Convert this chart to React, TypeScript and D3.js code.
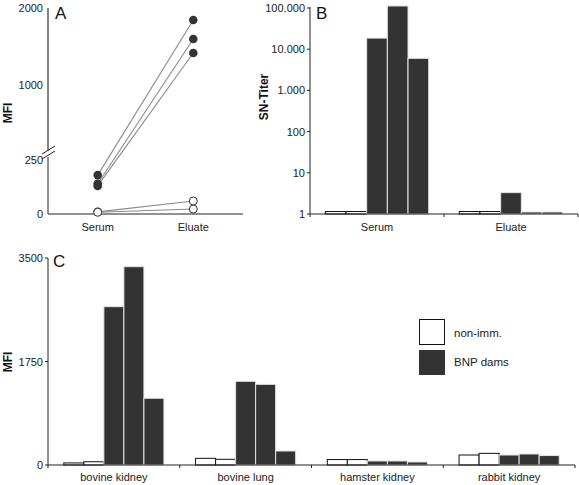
import React from "react";
import * as d3 from "d3";

// Panel A: MFI serum vs eluate
const aCategories = ["Serum", "Eluate"];
const aSerumFilled = [180, 140, 130];
const aEluateFilled = [1844, 1597, 1416];
const aSerumOpen = [10, 8];
const aEluateOpen = [60, 23];
const aTicksLower = [0, 250];
const aTicksUpper = [1000, 2000];

// Panel B: SN-Titer
const bGroups = ["Serum", "Eluate"];
const bSerum = [1.15, 1.15, 18600, 112000, 6000];
const bEluate = [1.15, 1.15, 3.3, 1.12, 1.12];
const bTypes = ["non", "non", "bnp", "bnp", "bnp"];
const bTicks = [1, 10, 100, 1000, 10000, 100000];
const bTickLabels = ["1", "10", "100", "1.000", "10.000", "100.000"];

// Panel C: MFI on tissues
const cTissues = ["bovine kidney", "bovine lung", "hamster kidney", "rabbit kidney"];
const cBovineKidney = [35, 55, 2677, 3353, 1128];
const cBovineLung = [113, 96, 1415, 1364, 237];
const cHamsterKidney = [92, 92, 68, 68, 51];
const cRabbitKidney = [169, 197, 169, 186, 160];
const cTypes = ["non", "non", "bnp", "bnp", "bnp"];
const cTicks = [0, 1750, 3500];
const legendLabels = ["non-imm.", "BNP dams"];

const FONT = "Liberation Sans, Arial, Helvetica, sans-serif";
const DARK = "#333333";
const AX = "#222";

export default function App() {
  // ---------- Panel A ----------
  const aX = d3.scalePoint(aCategories, [48, 243]).padding(0.52);
  const aLower = d3.scaleLinear([0, 250], [214, 160]);
  const aUpper = d3.scaleLinear([1000, 2000], [85, 8]);
  const aY = (v: number) => (v <= 250 ? aLower(v) : aUpper(v));
  const xS = aX("Serum")!;
  const xE = aX("Eluate")!;

  // ---------- Panel B ----------
  const bX = d3.scaleBand(bGroups, [310, 578]);
  const bInner = d3.scaleBand(d3.range(5).map(String), [0, bX.bandwidth()]).paddingOuter(0.74);
  const bY = d3.scaleLog([1, 100000], [214, 8]);
  const bData = [bSerum, bEluate];

  // ---------- Panel C ----------
  const cX = d3.scaleBand(cTissues, [48, 575]);
  const cInner = d3.scaleBand(d3.range(5).map(String), [0, cX.bandwidth()]).paddingOuter(0.79);
  const cY = d3.scaleLinear([0, 3500], [465, 258]);
  const cData = [cBovineKidney, cBovineLung, cHamsterKidney, cRabbitKidney];

  const barFill = (t: string) => (t === "bnp" ? DARK : "#fff");
  const barStroke = (t: string) => (t === "bnp" ? "#e4e4e4" : "#111");

  return (
    <svg
      width={579}
      height={485}
      style={{ position: "absolute", left: 0, top: 0, background: "#fff" }}
      fontFamily={FONT}
    >
      {/* ================= Panel A ================= */}
      <g>
        {/* y axis, broken */}
        <line x1={48} x2={48} y1={8} y2={151} stroke="#444" strokeWidth={1.3} />
        <line x1={48} x2={48} y1={157} y2={214} stroke={AX} strokeWidth={1} />
        <line x1={42} y1={154} x2={55} y2={146} stroke={AX} strokeWidth={1} />
        <line x1={42} y1={159} x2={55} y2={151} stroke={AX} strokeWidth={1} />
        {/* x axis */}
        <line x1={48} x2={243} y1={214} y2={214} stroke={AX} strokeWidth={1} />
        {[...aTicksUpper].map((t) => (
          <text key={"au" + t} x={43} y={aUpper(t) + 4} textAnchor="end" fontSize={11} fill={AX}>
            {t}
          </text>
        ))}
        {aTicksLower.map((t) => (
          <text key={"al" + t} x={43} y={aLower(t) + 4} textAnchor="end" fontSize={11} fill={AX}>
            {t}
          </text>
        ))}
        {aCategories.map((c) => (
          <text key={c} x={aX(c)!} y={231} textAnchor="middle" fontSize={11} fill={AX}>
            {c}
          </text>
        ))}
        <text
          transform={`translate(12,113) rotate(-90)`}
          textAnchor="middle"
          fontSize={12}
          fontWeight="bold"
          fill="#111"
        >
          MFI
        </text>
        <text x={55} y={19} fontSize={17} fill="#111">
          A
        </text>
        {/* lines */}
        {aSerumFilled.map((v, i) => (
          <line
            key={"lf" + i}
            x1={xS}
            y1={aY(v)}
            x2={xE}
            y2={aY(aEluateFilled[i])}
            stroke="#8a8a8a"
            strokeWidth={1.1}
          />
        ))}
        {aSerumOpen.map((v, i) => (
          <line
            key={"lo" + i}
            x1={xS}
            y1={aY(v)}
            x2={xE}
            y2={aY(aEluateOpen[i])}
            stroke="#8a8a8a"
            strokeWidth={1.1}
          />
        ))}
        {/* points */}
        {aSerumFilled.map((v, i) => (
          <circle key={"sf" + i} cx={xS} cy={aY(v)} r={4.3} fill={DARK} />
        ))}
        {aEluateFilled.map((v, i) => (
          <circle key={"ef" + i} cx={xE} cy={aY(v)} r={4.3} fill={DARK} />
        ))}
        {aSerumOpen.map((v, i) => (
          <circle key={"so" + i} cx={xS} cy={aY(v)} r={4} fill="#fff" stroke={DARK} strokeWidth={1} />
        ))}
        {aEluateOpen.map((v, i) => (
          <circle key={"eo" + i} cx={xE} cy={aY(v)} r={4} fill="#fff" stroke={DARK} strokeWidth={1} />
        ))}
      </g>

      {/* ================= Panel B ================= */}
      <g>
        {bData.map((vals, g) =>
          vals.map((v, i) => {
            const x = bX(bGroups[g])! + bInner(String(i))!;
            return (
              <rect
                key={"b" + g + "-" + i}
                x={x}
                y={bY(v)}
                width={bInner.bandwidth()}
                height={214 - bY(v)}
                fill={barFill(bTypes[i])}
                stroke={barStroke(bTypes[i])}
                strokeWidth={1}
              />
            );
          })
        )}
        <line x1={310} x2={310} y1={7} y2={214} stroke={AX} strokeWidth={1} />
        <line x1={310} x2={578} y1={214} y2={214} stroke={AX} strokeWidth={1} />
        {[...bGroups.map((g) => bX(g)!), 578].map((x, i) => (
          <line key={"bxt" + i} x1={x} x2={x} y1={214} y2={217} stroke={AX} strokeWidth={1} />
        ))}
        {bTicks.map((t, i) => (
          <g key={"bt" + t}>
            <line x1={307} x2={310} y1={bY(t)} y2={bY(t)} stroke={AX} strokeWidth={1} />
            <text x={305} y={bY(t) + 4} textAnchor="end" fontSize={11} fill={AX}>
              {bTickLabels[i]}
            </text>
          </g>
        ))}
        {bGroups.map((g) => (
          <text
            key={"bl" + g}
            x={bX(g)! + bX.bandwidth() / 2}
            y={231}
            textAnchor="middle"
            fontSize={11}
            fill={AX}
          >
            {g}
          </text>
        ))}
        <text
          transform={`translate(268,97) rotate(-90)`}
          textAnchor="middle"
          fontSize={12}
          fontWeight="bold"
          fill="#111"
        >
          SN-Titer
        </text>
        <text x={316} y={19} fontSize={17} fill="#111">
          B
        </text>
      </g>

      {/* ================= Panel C ================= */}
      <g>
        {cData.map((vals, g) =>
          vals.map((v, i) => {
            const x = cX(cTissues[g])! + cInner(String(i))!;
            return (
              <rect
                key={"c" + g + "-" + i}
                x={x}
                y={cY(v)}
                width={cInner.bandwidth()}
                height={465 - cY(v)}
                fill={barFill(cTypes[i])}
                stroke={barStroke(cTypes[i])}
                strokeWidth={1}
              />
            );
          })
        )}
        <line x1={48} x2={48} y1={258} y2={465} stroke={AX} strokeWidth={1} />
        <line x1={48} x2={575} y1={465} y2={465} stroke={AX} strokeWidth={1} />
        {[...cTissues.map((t) => cX(t)!), 575].map((x, i) => (
          <line key={"cxt" + i} x1={x} x2={x} y1={465} y2={468} stroke={AX} strokeWidth={1} />
        ))}
        {cTicks.map((t) => (
          <g key={"ct" + t}>
            <line x1={45} x2={48} y1={cY(t)} y2={cY(t)} stroke={AX} strokeWidth={1} />
            <text x={43} y={cY(t) + 4} textAnchor="end" fontSize={11} fill={AX}>
              {t}
            </text>
          </g>
        ))}
        {cTissues.map((t) => (
          <text
            key={"cl" + t}
            x={cX(t)! + cX.bandwidth() / 2}
            y={481}
            textAnchor="middle"
            fontSize={11}
            fill={AX}
          >
            {t}
          </text>
        ))}
        <text
          transform={`translate(12,362) rotate(-90)`}
          textAnchor="middle"
          fontSize={12}
          fontWeight="bold"
          fill="#111"
        >
          MFI
        </text>
        <text x={53} y={267} fontSize={17} fill="#111">
          C
        </text>
        {/* legend */}
        <rect x={419.5} y={319.5} width={25} height={25} fill="#fff" stroke="#111" strokeWidth={1} />
        <rect x={419} y={350} width={26} height={25} fill={DARK} />
        <text x={454} y={337} fontSize={11.5} fill={AX}>
          {legendLabels[0]}
        </text>
        <text x={454} y={366} fontSize={11.5} fill={AX}>
          {legendLabels[1]}
        </text>
      </g>
    </svg>
  );
}
